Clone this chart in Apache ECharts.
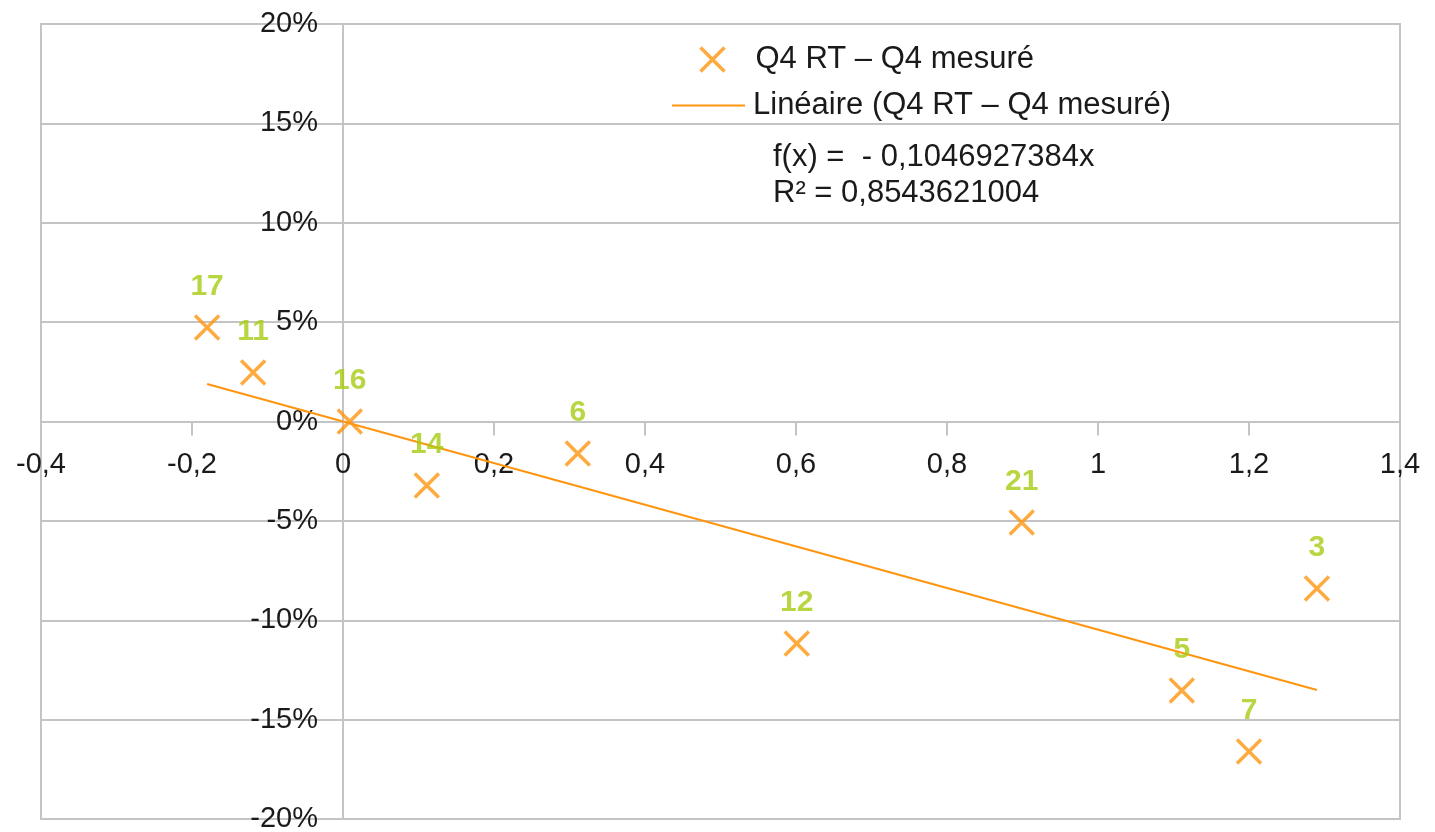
<!DOCTYPE html>
<html>
<head>
<meta charset="utf-8">
<script src="https://cdn.jsdelivr.net/npm/echarts@6/dist/echarts.min.js"></script>
<style>
html,body{margin:0;padding:0;background:#fff;}
#c{width:1435px;height:832px;}
</style>
</head>
<body>
<div id="c"></div>
<script>
// Data
const pointLabels = ['17', '11', '16', '14', '6', '12', '21', '5', '7', '3'];
const xValues = [-0.180, -0.119, 0.009, 0.111, 0.311, 0.601, 0.899, 1.111, 1.200, 1.290];
const yValues = [0.0473, 0.0247, 0.0000, -0.0322, -0.0161, -0.1117, -0.0508, -0.1353, -0.1660, -0.0840];
const trendSlope = -0.1046927384;
const trendR2 = '0,8543621004';
const seriesName = 'Q4 RT – Q4 mesuré';
const trendName = 'Linéaire (Q4 RT – Q4 mesuré)';
const X_MIN = -0.4, X_MAX = 1.4, X_STEP = 0.2;
const Y_MIN = -0.2, Y_MAX = 0.2, Y_STEP = 0.05;

const FONT = '"Liberation Sans", Arial, sans-serif';
const ORANGE = '#ff950e';
const GREEN = '#a6cc12';
const GRID = '#c4c4c4';
const TEXT = '#1a1a1a';

const W = 1435, H = 832;
const G = { left: 41, right: 35, top: 24, bottom: 13 };
const plotW = W - G.left - G.right, plotH = H - G.top - G.bottom;
// place axes where the other axis is zero (labels follow the axis line)
const xAxisOffset = -plotH * (0 - Y_MIN) / (Y_MAX - Y_MIN);
const yAxisOffset = -plotW * (0 - X_MIN) / (X_MAX - X_MIN);

const scatterData = xValues.map((x, i) => ({ value: [x, yValues[i]], name: pointLabels[i] }));
const xMin = Math.min(...xValues), xMax = Math.max(...xValues);
const trendData = [[xMin, trendSlope * xMin], [xMax, trendSlope * xMax]];

const chart = echarts.init(document.getElementById('c'), null, { renderer: 'canvas' });
chart.setOption({
  animation: false,
  backgroundColor: '#fff',
  grid: {
    left: G.left, right: G.right, top: G.top, bottom: G.bottom,
    containLabel: false, outerBoundsMode: 'none',
    show: true, borderColor: GRID, borderWidth: 2, backgroundColor: 'transparent'
  },
  legend: [
    {
      data: [seriesName],
      orient: 'vertical', left: 693, top: 39,
      itemWidth: 24, itemHeight: 24,
      itemStyle: { borderWidth: 3.5 },
      textStyle: { fontFamily: FONT, fontSize: 31, color: TEXT, padding: [0, 0, 0, 26] },
      selectedMode: false
    },
    {
      data: [{ name: trendName, icon: 'rect' }],
      orient: 'vertical', left: 667, top: 85,
      itemWidth: 73, itemHeight: 2,
      itemStyle: { color: ORANGE },
      textStyle: { fontFamily: FONT, fontSize: 31, color: TEXT, padding: [0, 0, 0, 3] },
      selectedMode: false
    }
  ],
  graphic: [{
    type: 'text', left: 773, top: 139,
    style: {
      text: 'f(x) =  - 0,1046927384x\nR² = ' + trendR2,
      font: '31px ' + FONT, fill: TEXT, lineHeight: 36
    }
  }],
  xAxis: {
    type: 'value', min: X_MIN, max: X_MAX, interval: X_STEP,
    position: 'bottom', offset: xAxisOffset,
    axisLine: { onZero: false, lineStyle: { color: GRID, width: 2 } },
    axisTick: { show: true, length: 14, lineStyle: { color: GRID, width: 2 } },
    splitLine: { show: false },
    axisLabel: {
      margin: 29, color: TEXT, fontFamily: FONT, fontSize: 29,
      formatter: v => String(+v.toFixed(1)).replace('.', ',')
    }
  },
  yAxis: {
    type: 'value', min: Y_MIN, max: Y_MAX, interval: Y_STEP,
    position: 'left', offset: yAxisOffset,
    axisLine: { onZero: false, lineStyle: { color: GRID, width: 2 } },
    axisTick: { show: true, length: 13, lineStyle: { color: GRID, width: 2 } },
    splitLine: { show: true, lineStyle: { color: GRID, width: 2 } },
    axisLabel: {
      margin: 25, color: TEXT, fontFamily: FONT, fontSize: 29,
      formatter: v => Math.round(v * 100) + '%'
    }
  },
  series: [
    {
      name: seriesName,
      type: 'scatter',
      data: scatterData,
      symbol: 'path://M0,0L10,10M10,0L0,10',
      symbolSize: 24,
      itemStyle: { color: 'none', borderColor: ORANGE, borderWidth: 3.5 },
      label: {
        show: true, position: 'top', distance: 11,
        formatter: p => p.name,
        color: GREEN, fontFamily: FONT, fontSize: 30, fontWeight: 'bold'
      },
      z: 3
    },
    {
      name: trendName,
      type: 'line',
      data: trendData,
      showSymbol: false,
      symbol: 'none',
      lineStyle: { color: ORANGE, width: 2 },
      itemStyle: { color: ORANGE },
      z: 2
    }
  ]
});
</script>
</body>
</html>
